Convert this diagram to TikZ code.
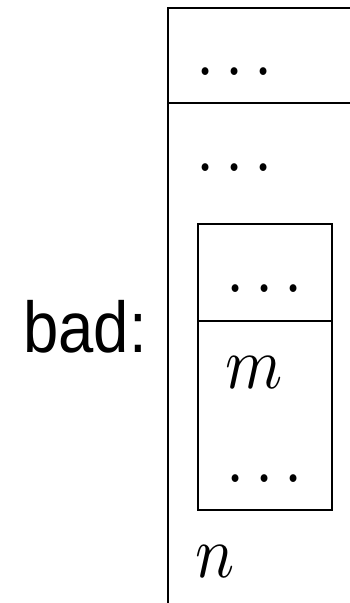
\documentclass[tikz,border=0pt]{standalone}
\usepackage{fontspec}
\setmainfont{Liberation Sans}
\usepackage{graphicx}
% math at 10pt, blown up to about 74pt and squeezed sideways
\newcommand{\bigmath}[1]{\scalebox{6.51}[7.4]{$#1$}}

\begin{document}
\begin{tikzpicture}[x=1pt,y=-1pt,line width=2pt]
\tikzset{lbl/.style={inner sep=0pt,anchor=base}}
\useasboundingbox (0,0) rectangle (350,603);
\draw (167.7,603) -- (167.7,7.5) -- (350,7.5);
\draw (167.7,103.3) -- (350,103.3);
\draw (197.7,224.3) rectangle (331.7,510);
\draw (197.7,320.7) -- (331.7,320.7);
\node[lbl] (dotsA) at (234.6,75) {\bigmath{\dots}};
\node[lbl] (dotsB) at (234.6,171) {\bigmath{\dots}};
\node[lbl] (dotsC) at (264.3,292) {\bigmath{\dots}};
\node[lbl] (m) at (254,388) {\bigmath{m}};
\node[lbl] (dotsD) at (264.3,482) {\bigmath{\dots}};
\node[lbl] (n) at (215.5,577) {\bigmath{n}};
\node[lbl] (bad) at (85,352) {\scalebox{6.34}[7.2]{bad:}};
\end{tikzpicture}
\end{document}
